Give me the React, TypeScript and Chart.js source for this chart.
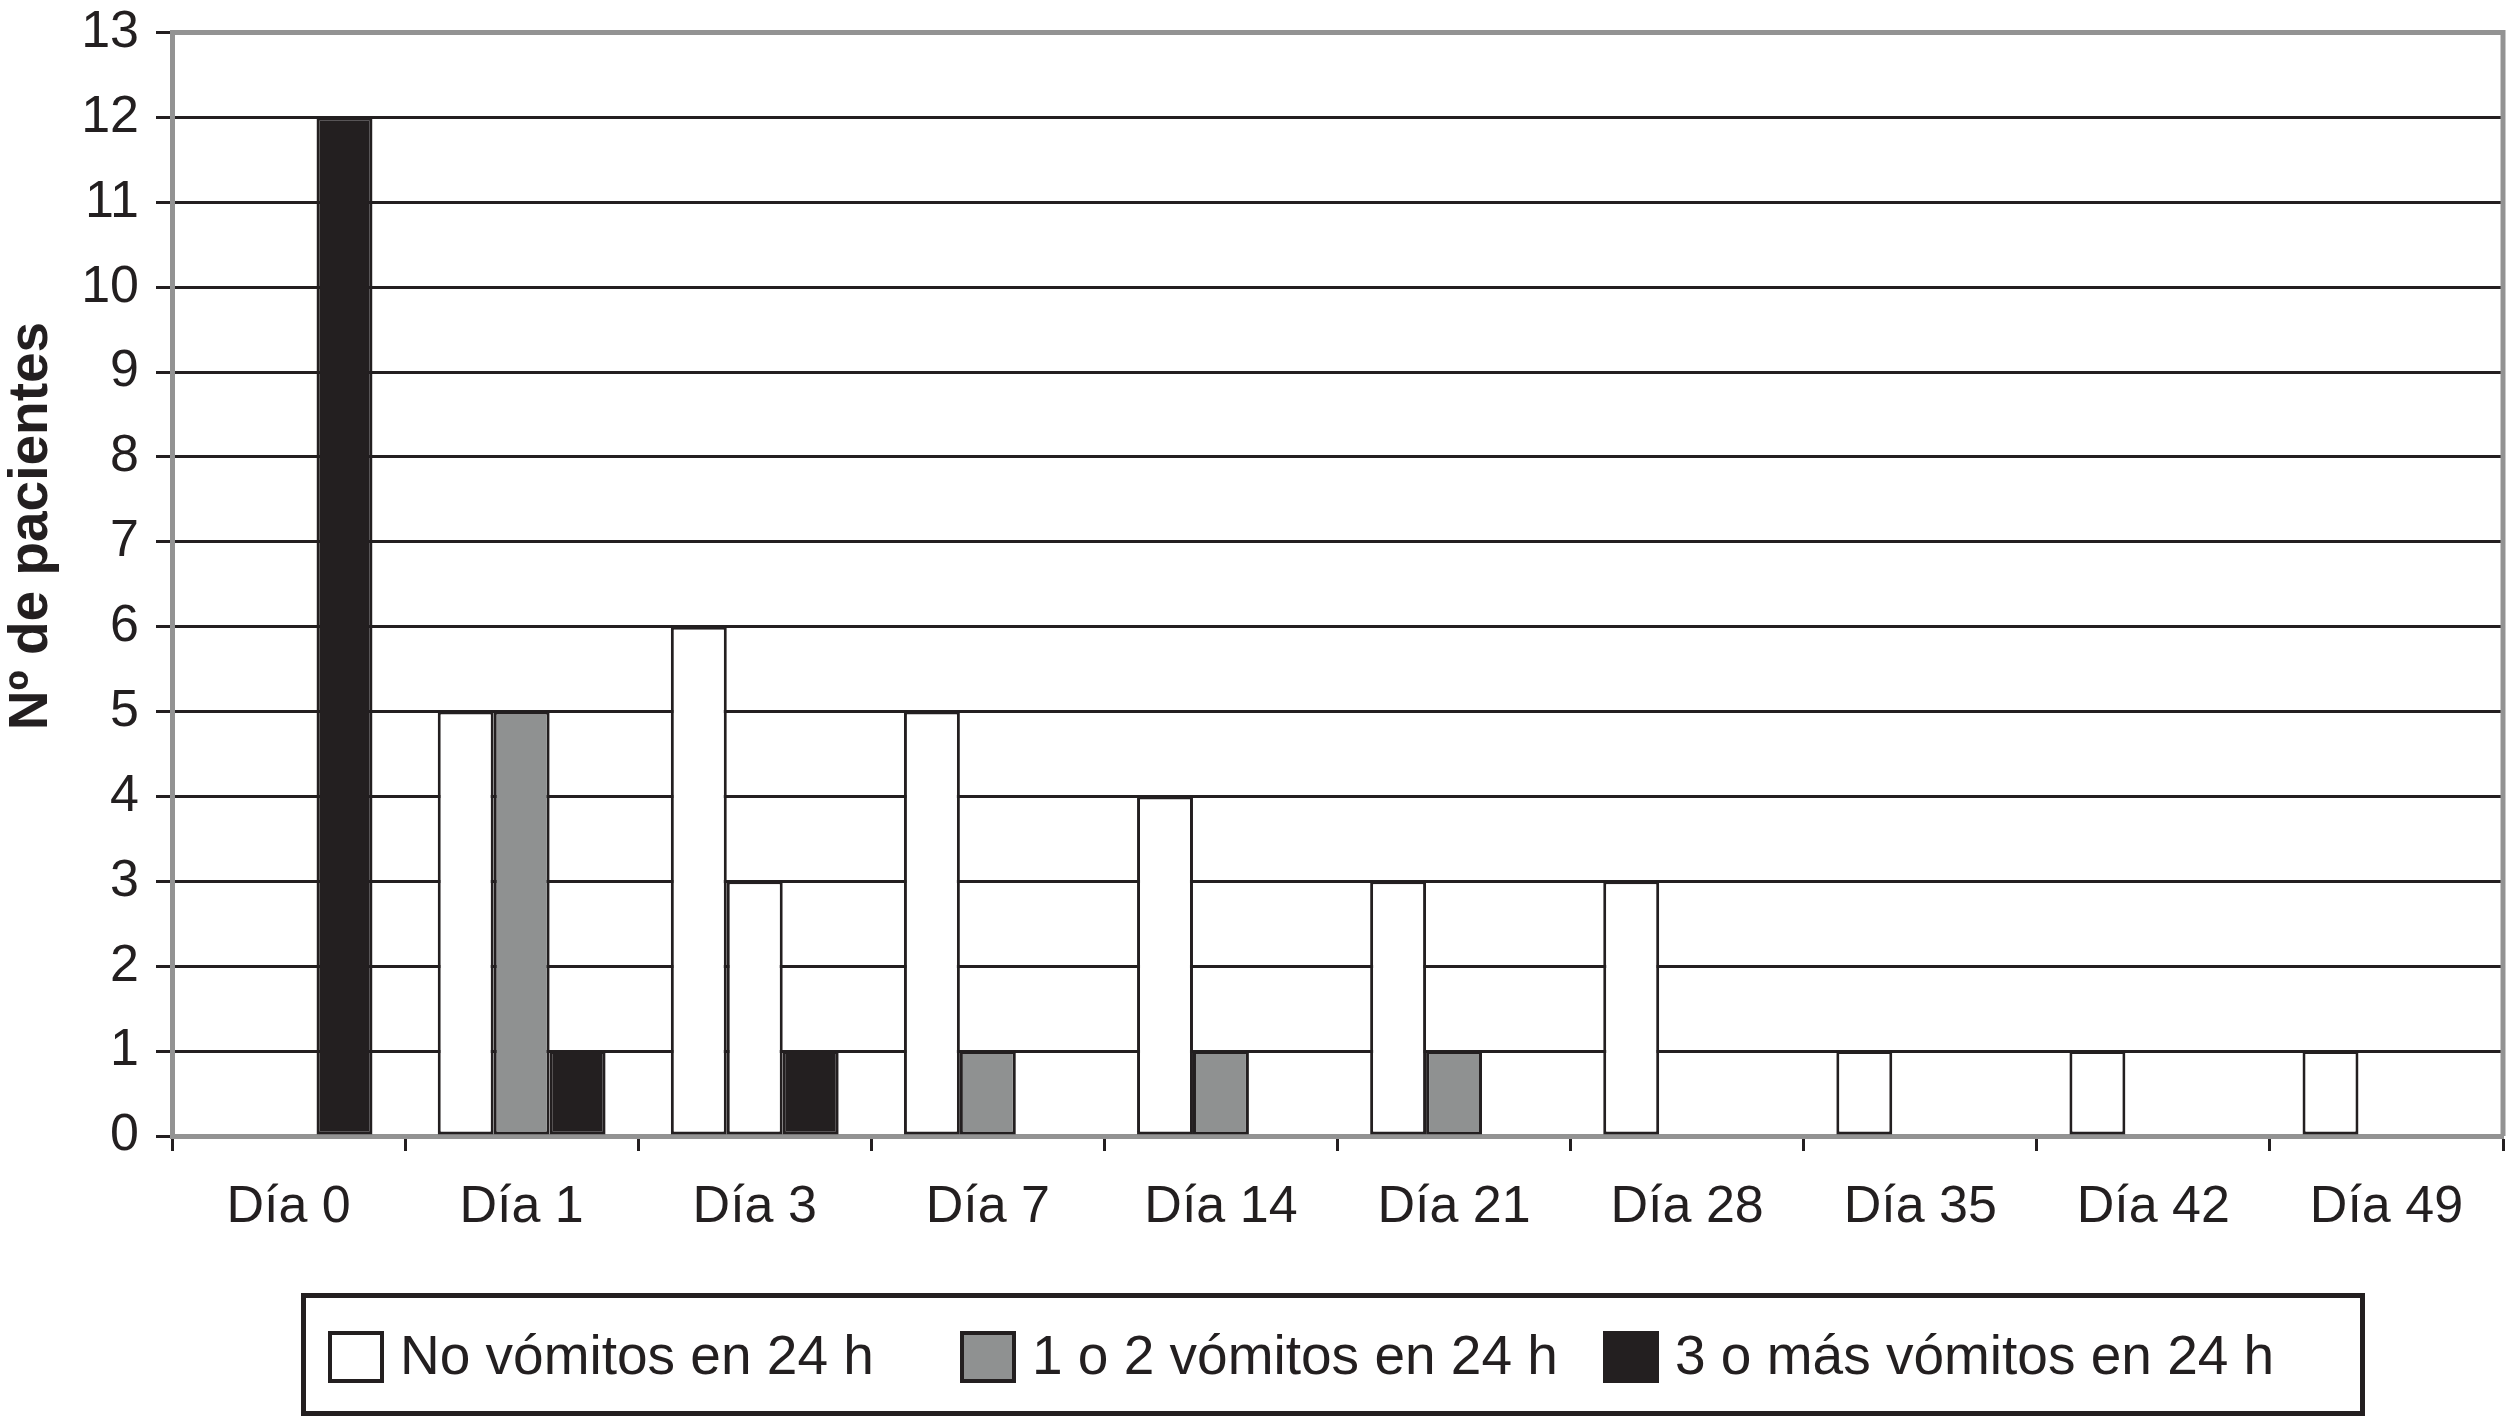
import React, { useEffect, useRef } from "react";
import { Chart, registerables } from "chart.js";

Chart.register(...registerables);

const CATEGORIES = ["Día 0", "Día 1", "Día 3", "Día 7", "Día 14", "Día 21", "Día 28", "Día 35", "Día 42", "Día 49"];
const NO_VOMITOS = [0, 5, 6, 5, 4, 3, 3, 1, 1, 1];
const UNO_DOS_VOMITOS = [0, 5, 3, 1, 1, 1, 0, 0, 0, 0];
const TRES_MAS_VOMITOS = [12, 1, 1, 0, 0, 0, 0, 0, 0, 0];
const SERIES_LABELS = ["No vómitos en 24 h", "1 o 2 vómitos en 24 h", "3 o más vómitos en 24 h"];
const Y_MIN = 0;
const Y_MAX = 13;
const Y_TITLE = "Nº de pacientes";

const WHITE = "#ffffff";
const GRAY = "#8f9191";
const BLACK = "#231f20";
const AXIS_GRAY = "#939393";
const FONT = "'Liberation Sans', Arial, Helvetica, sans-serif";

const W = 2509;
const H = 1420;

const decorPlugin = {
  id: "decor",
  afterDatasetsDraw(chart: any) {
    const { ctx, chartArea } = chart;
    ctx.save();
    ctx.strokeStyle = AXIS_GRAY;
    ctx.lineWidth = 5;
    ctx.beginPath();
    ctx.moveTo(chartArea.left - 2, chartArea.top);
    ctx.lineTo(chartArea.right, chartArea.top);
    ctx.lineTo(chartArea.right, chartArea.bottom);
    ctx.stroke();
    ctx.restore();
  },
  afterDraw(chart: any) {
    const { ctx } = chart;
    ctx.save();
    ctx.translate(32, 526);
    ctx.rotate(-Math.PI / 2);
    ctx.fillStyle = BLACK;
    ctx.font = `bold 55px ${FONT}`;
    ctx.textAlign = "center";
    ctx.textBaseline = "middle";
    ctx.fillText(Y_TITLE, 0, 0);
    ctx.restore();

    ctx.save();
    const bx = 301, by = 1293, bw = 2064, bh = 123;
    ctx.strokeStyle = BLACK;
    ctx.lineWidth = 5;
    ctx.strokeRect(bx + 2.5, by + 2.5, bw - 5, bh - 5);
    const datasets = chart.data.datasets;
    const starts = [328, 960, 1603];
    datasets.forEach((ds: any, i: number) => {
      const x = starts[i];
      const boxW = 56, boxH = 52;
      const cy = 1357;
      ctx.fillStyle = ds.legendColor;
      ctx.fillRect(x, cy - boxH / 2, boxW, boxH);
      ctx.strokeStyle = BLACK;
      ctx.lineWidth = 4;
      ctx.strokeRect(x + 2, cy - boxH / 2 + 2, boxW - 4, boxH - 4);
      ctx.fillStyle = BLACK;
      ctx.font = `55px ${FONT}`;
      ctx.textAlign = "left";
      ctx.textBaseline = "middle";
      ctx.fillText(ds.label, x + 72, cy + 2);
    });
    ctx.restore();
  },
};

export default function App() {
  const canvasRef = useRef<HTMLCanvasElement | null>(null);

  useEffect(() => {
    document.body.style.margin = "0";
    const canvas = canvasRef.current;
    if (!canvas) return;
    const barCommon = {
      borderColor: BLACK,
      borderWidth: 3,
      borderSkipped: false,
      inflateAmount: 0,
      barPercentage: 1,
      categoryPercentage: 0.72,
    };
    const chart = new Chart(canvas, {
      type: "bar",
      data: {
        labels: CATEGORIES,
        datasets: [
          { label: SERIES_LABELS[0], data: NO_VOMITOS, backgroundColor: WHITE, legendColor: WHITE, ...barCommon } as any,
          {
            label: SERIES_LABELS[1],
            data: UNO_DOS_VOMITOS,
            backgroundColor: (c: any) => (c.dataIndex === 2 ? WHITE : GRAY),
            legendColor: GRAY,
            ...barCommon,
          } as any,
          { label: SERIES_LABELS[2], data: TRES_MAS_VOMITOS, backgroundColor: BLACK, legendColor: BLACK, ...barCommon } as any,
        ],
      },
      options: {
        responsive: true,
        maintainAspectRatio: false,
        animation: false,
        layout: { padding: { left: 0, right: 6, top: 31, bottom: 0 } },
        plugins: {
          legend: { display: false },
          tooltip: { enabled: false },
          title: { display: false },
        },
        scales: {
          x: {
            offset: true,
            grid: {
              offset: true,
              drawOnChartArea: false,
              drawTicks: true,
              tickLength: 15,
              tickColor: BLACK,
              tickWidth: 3,
              color: BLACK,
            },
            border: { color: AXIS_GRAY, width: 5 },
            ticks: {
              color: BLACK,
              font: { family: FONT, size: 52 },
              padding: 25,
              maxRotation: 0,
              autoSkip: false,
            },
            afterFit: (s: any) => {
              s.height = 284;
            },
          },
          y: {
            min: Y_MIN,
            max: Y_MAX,
            grid: {
              color: (c: any) => (c.tick && (c.tick.value === Y_MIN || c.tick.value === Y_MAX) ? "rgba(0,0,0,0)" : BLACK),
              lineWidth: 3,
              drawTicks: true,
              tickLength: 16,
              tickColor: BLACK,
              tickWidth: 3,
            },
            border: { color: AXIS_GRAY, width: 5 },
            ticks: {
              stepSize: 1,
              color: BLACK,
              font: { family: FONT, size: 52, lineHeight: 0.6 },
              padding: 17,
            },
            afterFit: (s: any) => {
              s.width = 172;
            },
          },
        },
      },
      plugins: [decorPlugin],
    });
    return () => chart.destroy();
  }, []);

  return (
    <div style={{ width: W, height: H, position: "relative", background: "#fff" }}>
      <canvas ref={canvasRef} />
    </div>
  );
}
